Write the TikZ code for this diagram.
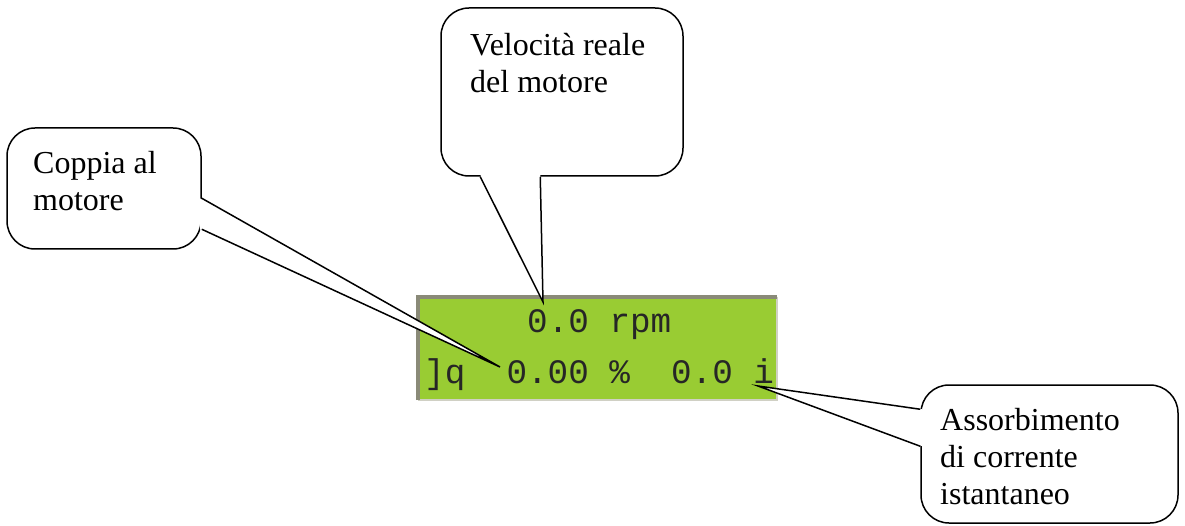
\documentclass[tikz,border=0pt]{standalone}
\usepackage{fontspec}
\setmainfont{Liberation Serif}
\newfontfamily\lcdfamily{Liberation Mono}
\usetikzlibrary{positioning}

\definecolor{lcdgreen}{HTML}{99CC33}
\definecolor{lcdframe}{HTML}{8A8A78}
\definecolor{lcdlight}{HTML}{D0D0C4}

\begin{document}
\begin{tikzpicture}[
  x = 1pt, y = -1pt,
  every node/.style = {inner sep=0pt},
  callout/.style = {rectangle, rounded corners=28pt, draw=black,
                    fill=white, line width=1.5pt},
  note/.style    = {font=\fontsize{32}{37}\selectfont, align=left,
                    anchor=north west},
  panel/.style   = {rectangle, fill=lcdgreen, minimum width=359pt,
                    minimum height=103pt},
  lcdtext/.style = {font=\lcdfamily\fontsize{34.3}{40}\selectfont,
                    anchor=base west, text=black!85},
  tail/.style    = {line width=1.5pt, line join=miter}
]
\useasboundingbox (0,0) rectangle (1185,526);

% --- display ---
\node[panel] (lcd) at (597.5,348.5) {};
\draw[lcdlight, line width=2pt] (lcd.north east) -- (lcd.south east) -- (lcd.south west);
\draw[lcdframe, line width=3.5pt] (lcd.south west) -- (lcd.north west) -- (lcd.north east);

\node[lcdtext] (row1) at (527,333) {0.0~rpm};
\node[lcdtext] (row2) at (424,383) {]q~~0.00~\%~~0.0~i};

% --- points of the tails ---
\coordinate (veltip) at (543,302);
\coordinate (coptip) at (500,367);
\coordinate (asstip) at (758,386);

% --- callouts ---
\node[callout, minimum width=242pt, minimum height=168pt] (vel) at (562,92) {};
\node[callout, minimum width=194pt, minimum height=121pt] (cop) at (104,188.5) {};
\node[callout, minimum width=257pt, minimum height=138pt] (ass) at (1049.5,454) {};

\coordinate (velA) at ([xshift=40pt]vel.south west);
\coordinate (velB) at ([xshift=100pt]vel.south west);
\coordinate (copA) at ([yshift=-71pt]cop.north east);
\coordinate (copB) at ([yshift=-102pt]cop.north east);
\coordinate (assA) at ([yshift=-25pt]ass.north west);
\coordinate (assB) at ([yshift=-62pt]ass.north west);

% tails
\fill[white] ([yshift=2pt]velA) -- (veltip) -- ([yshift=2pt]velB) -- cycle;
\draw[tail] (velA) -- (veltip) -- (velB);
\fill[white] ([xshift=-2pt]copA) -- (coptip) -- ([xshift=-2pt]copB) -- cycle;
\draw[tail] (copA) -- (coptip) -- (copB);
\fill[white] ([xshift=2pt]assA) -- (asstip) -- ([xshift=2pt]assB) -- cycle;
\draw[tail] (assA) -- (asstip) -- (assB);

% --- texts ---
\node[note] (veltext) at (470,33)  {Velocità reale\\del motore};
\node[note] (coptext) at (33,151)  {Coppia al\\motore};
\node[note] (asstext) at (940,408) {Assorbimento\\di corrente\\istantaneo};

\end{tikzpicture}
\end{document}
